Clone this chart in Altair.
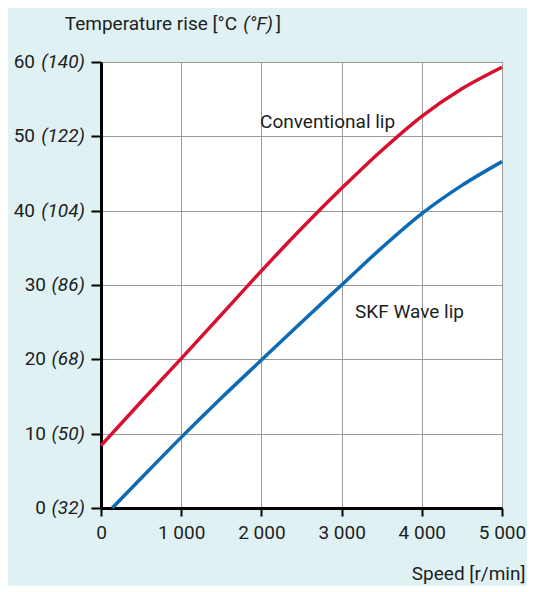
import altair as alt
import pandas as pd

# ---- data ----
speed = [0, 500, 1000, 1500, 2000, 2500, 3000, 3500, 4000, 4500, 5000]
conventional_lip = [8.4, 14.3, 20.1, 26.0, 31.9, 37.6, 43.0, 48.1, 52.7, 56.4, 59.3]
wave_speed = [140, 500, 1000, 1500, 2000, 2500, 3000, 3500, 4000, 4500, 5000]
wave_lip = [0.0, 4.0, 9.5, 14.8, 19.9, 25.0, 30.0, 35.0, 39.6, 43.4, 46.6]

series_names = ["Conventional lip", "SKF Wave lip"]
series_colors = ["#d7102f", "#0d6ab4"]

x_ticks = [0, 1000, 2000, 3000, 4000, 5000]
y_ticks_c = [0, 10, 20, 30, 40, 50, 60]
y_ticks_f = [32, 50, 68, 86, 104, 122, 140]

label_speed = [1983, 3167]
label_temp = [51.1, 25.6]

FONT = "Roboto"
FS = 19
TXT = "#1e1e1e"
GRID = "#9a9a9a"

lines_df = pd.concat([
    pd.DataFrame({"speed": speed, "temp": conventional_lip, "series": series_names[0]}),
    pd.DataFrame({"speed": wave_speed, "temp": wave_lip, "series": series_names[1]}),
], ignore_index=True)

x_scale = alt.Scale(domain=[0, 5000], nice=False, zero=False)
y_scale = alt.Scale(domain=[0, 60], nice=False)

lines = alt.Chart(lines_df).mark_line(strokeWidth=3.5, interpolate="monotone").encode(
    x=alt.X("speed:Q", scale=x_scale, axis=alt.Axis(
        values=x_ticks,
        labelExpr="replace(format(datum.value, ','), ',', ' ')",
        title="Speed [r/min]", titleAnchor="end", titleAlign="right",
        titleBaseline="alphabetic", titleX=424, titleY=71,
        titleFont=FONT, titleFontSize=FS, titleFontWeight="normal", titleColor=TXT,
        labelFont=FONT, labelFontSize=FS, labelColor=TXT, labelPadding=7,
        labelFlush=False, labelOverlap=False,
        domainColor="black", domainWidth=3, tickColor="black", tickWidth=2, tickSize=8,
        gridColor=GRID, gridWidth=1,
    )),
    y=alt.Y("temp:Q", scale=y_scale, axis=alt.Axis(
        values=y_ticks_c, labels=False, title=None,
        domainColor="black", domainWidth=3, tickColor="black", tickWidth=2, tickSize=10,
        gridColor=GRID, gridWidth=1,
    )),
    color=alt.Color("series:N", scale=alt.Scale(domain=series_names, range=series_colors), legend=None),
)

labels_df = pd.DataFrame({"speed": label_speed, "temp": label_temp, "name": series_names})
series_labels = alt.Chart(labels_df).mark_text(
    align="left", baseline="alphabetic", font=FONT, fontSize=FS, color=TXT
).encode(x=alt.X("speed:Q", scale=x_scale), y=alt.Y("temp:Q", scale=y_scale), text="name:N")

ydf = pd.DataFrame({"c": y_ticks_c, "f": y_ticks_f})
ybase = alt.Chart(ydf).transform_calculate(
    cl="toString(datum.c)", fl="'(' + datum.f + ')'"
)
y_italic = ybase.mark_text(
    align="right", baseline="middle", dx=-16, fontStyle="italic", font=FONT, fontSize=FS, color=TXT
).encode(x=alt.datum(0), y=alt.Y("c:Q", scale=y_scale), text="fl:N")
y_reg3 = ybase.transform_filter("datum.f >= 100").mark_text(
    align="right", baseline="middle", dx=-66, font=FONT, fontSize=FS, color=TXT
).encode(x=alt.datum(0), y=alt.Y("c:Q", scale=y_scale), text="cl:N")
y_reg2 = ybase.transform_filter("datum.f < 100").mark_text(
    align="right", baseline="middle", dx=-55, font=FONT, fontSize=FS, color=TXT
).encode(x=alt.datum(0), y=alt.Y("c:Q", scale=y_scale), text="cl:N")

title_df = pd.DataFrame({"t": ["Temperature rise [°C", "(°F)", "]"],
                         "st": ["normal", "italic", "normal"]})
t1 = alt.Chart(title_df).transform_filter("datum.st == 'normal' && datum.t != ']'").mark_text(
    align="right", baseline="alphabetic", font=FONT, fontSize=FS, color=TXT
).encode(x=alt.value(136), y=alt.value(-32), text="t:N")
t2 = alt.Chart(title_df).transform_filter("datum.st == 'italic'").mark_text(
    align="right", baseline="alphabetic", font=FONT, fontSize=FS, color=TXT, fontStyle="italic"
).encode(x=alt.value(172), y=alt.value(-32), text="t:N")
t3 = alt.Chart(title_df).transform_filter("datum.t == ']'").mark_text(
    align="right", baseline="alphabetic", font=FONT, fontSize=FS, color=TXT
).encode(x=alt.value(180), y=alt.value(-32), text="t:N")

chart = alt.layer(lines, series_labels, y_italic, y_reg3, y_reg2, t1, t2, t3).properties(
    width=401, height=446,
    background="#e0f1f4",
    autosize=alt.AutoSizeParams(type="none"),
    padding={"left": 93, "top": 54, "right": 25, "bottom": 78},
).configure_view(fill="white", stroke=GRID, strokeWidth=1)

chart.save("out.html", embed_options={"renderer": "svg", "actions": False})
